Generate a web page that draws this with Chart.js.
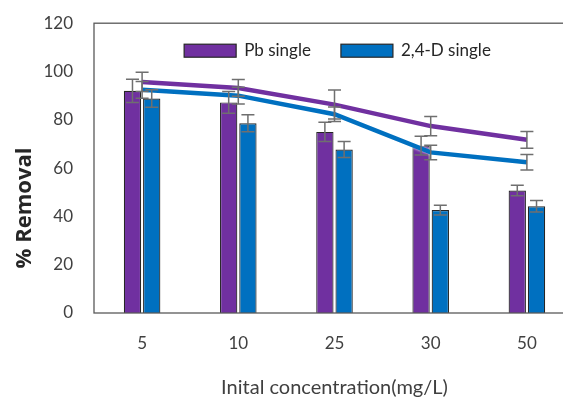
<!DOCTYPE html>
<html>
<head>
<meta charset="utf-8">
<script src="https://cdn.jsdelivr.net/npm/chart.js@4"></script>
<style>
  html, body { margin: 0; padding: 0; background: #fff; overflow: hidden; }
  #wrap { position: relative; width: 580px; height: 403px; }
</style>
</head>
<body>
<div id="wrap"><canvas id="chart"></canvas></div>
<script>
var concentrations = ["5", "10", "25", "30", "50"];

// bars
var pbBars = [92, 87.2, 75, 69.3, 50.7];
var pbBarErr = [4.8, 4.5, 4, 3.9, 2.2];
var dBars = [88.8, 78.6, 67.7, 42.6, 44.2];
var dBarErr = [3.6, 3.5, 3.3, 2, 2.4];

// lines
var pbLine = [95.7, 93.2, 86.3, 77.4, 71.7];
var pbLineErr = [4, 3.5, 6, 4, 3.5];
var dLine = [92.4, 90, 82.3, 66.5, 62.4];
var dLineErr = [3.5, 3.5, 3, 3, 3.2];

var yTicks = [0, 20, 40, 60, 80, 100, 120];

var purple = "#7030A0";
var blue = "#0070C0";
var errs = [pbBarErr, dBarErr, pbLineErr, dLineErr];
var font = "Lato, 'Open Sans', sans-serif";

var extras = {
    id: "extras",
    // soft white edge round the two lines, like the original
    beforeDatasetDraw: function(chart, args) {
        if (args.meta.type === "line") {
            chart.ctx.save();
            chart.ctx.shadowColor = "rgba(255,255,255,0.9)";
            chart.ctx.shadowBlur = 3;
        }
    },
    afterDatasetDraw: function(chart, args) {
        if (args.meta.type === "line") chart.ctx.restore();
    },
    afterDraw: function(chart) {
        var ctx = chart.ctx;
        var yScale = chart.scales.y;
        var area = chart.chartArea;
        ctx.save();

        // frame round the plot
        ctx.strokeStyle = "#595959";
        ctx.lineWidth = 1.3;
        ctx.strokeRect(area.left, area.top, area.right - area.left, area.bottom - area.top);

        // error bars
        ctx.strokeStyle = "#6f6f6f";
        ctx.lineWidth = 1.5;
        chart.data.datasets.forEach(function(ds, di) {
            var meta = chart.getDatasetMeta(di);
            ds.data.forEach(function(v, i) {
                var x = meta.data[i].x;
                var e = errs[di][i];
                var yTop = yScale.getPixelForValue(v + e);
                var yBot = yScale.getPixelForValue(v - e);
                ctx.beginPath();
                ctx.moveTo(x, yTop); ctx.lineTo(x, yBot);
                ctx.moveTo(x - 6.5, yTop); ctx.lineTo(x + 6.5, yTop);
                ctx.moveTo(x - 6.5, yBot); ctx.lineTo(x + 6.5, yBot);
                ctx.stroke();
            });
        });

        // legend inside the plot (bar series only)
        ctx.font = "17px " + font;
        ctx.textBaseline = "middle";
        var items = chart.data.datasets.slice(0, 2);
        var boxW = 52, boxH = 13, gap = 8, spacing = 30;
        var total = 0;
        items.forEach(function(ds, i) {
            total += boxW + gap + ctx.measureText(ds.label).width + (i ? 0 : spacing);
        });
        var x = (area.left + area.right) / 2 + 3 - total / 2;
        var y = area.top + 21;
        items.forEach(function(ds) {
            ctx.fillStyle = ds.backgroundColor;
            ctx.fillRect(x, y, boxW, boxH);
            ctx.strokeStyle = "#262626";
            ctx.lineWidth = 1.2;
            ctx.strokeRect(x, y, boxW, boxH);
            ctx.fillStyle = "#262626";
            ctx.fillText(ds.label, x + boxW + gap, y + boxH / 2);
            x += boxW + gap + ctx.measureText(ds.label).width + spacing;
        });

        // y axis title, sits lower than the plot centre in the original
        ctx.translate(25, 208);
        ctx.rotate(-Math.PI / 2);
        ctx.textAlign = "center";
        ctx.font = "bold 22px 'Open Sans', sans-serif";
        ctx.fillStyle = "#262626";
        ctx.fillText("% Removal", 0, 0);
        ctx.restore();
    }
};

new Chart(document.getElementById("chart"), {
    type: "bar",
    data: {
        labels: concentrations,
        datasets: [
            {
                label: "Pb single",
                data: pbBars,
                backgroundColor: purple,
                borderColor: "#262626",
                borderWidth: 1.2,
                categoryPercentage: 0.4,
                barPercentage: 0.9,
                order: 2
            },
            {
                label: "2,4-D single",
                data: dBars,
                backgroundColor: blue,
                borderColor: "#262626",
                borderWidth: 1.2,
                categoryPercentage: 0.4,
                barPercentage: 0.9,
                order: 2
            },
            {
                type: "line",
                label: "Pb line",
                data: pbLine,
                borderColor: purple,
                borderWidth: 4.5,
                pointRadius: 0,
                tension: 0,
                order: 1
            },
            {
                type: "line",
                label: "2,4-D line",
                data: dLine,
                borderColor: blue,
                borderWidth: 4.5,
                pointRadius: 0,
                tension: 0,
                order: 0
            }
        ]
    },
    options: {
        responsive: true,
        maintainAspectRatio: false,
        animation: false,
        layout: { padding: { left: 0, right: 5, top: 1, bottom: 0 } },
        plugins: {
            tooltip: { enabled: false },
            legend: { display: false }
        },
        scales: {
            x: {
                afterFit: function(axis) { axis.height = 90; },
                grid: { display: false },
                border: { display: false },
                ticks: { color: "#404040", padding: 12, font: { family: font, size: 17 } },
                title: {
                    display: true,
                    text: "Inital concentration(mg/L)",
                    color: "#404040",
                    padding: { top: 0, bottom: 3 },
                    font: { family: font, size: 20 }
                }
            },
            y: {
                min: 0,
                max: 120,
                afterFit: function(axis) { axis.width = 94; },
                afterBuildTicks: function(axis) {
                    axis.ticks = yTicks.map(function(v) { return { value: v }; });
                },
                grid: { display: false },
                border: { display: false },
                ticks: { color: "#404040", padding: 13, font: { family: font, size: 17 } },
                title: { display: false }
            }
        }
    },
    plugins: [extras]
});
</script>
</body>
</html>
